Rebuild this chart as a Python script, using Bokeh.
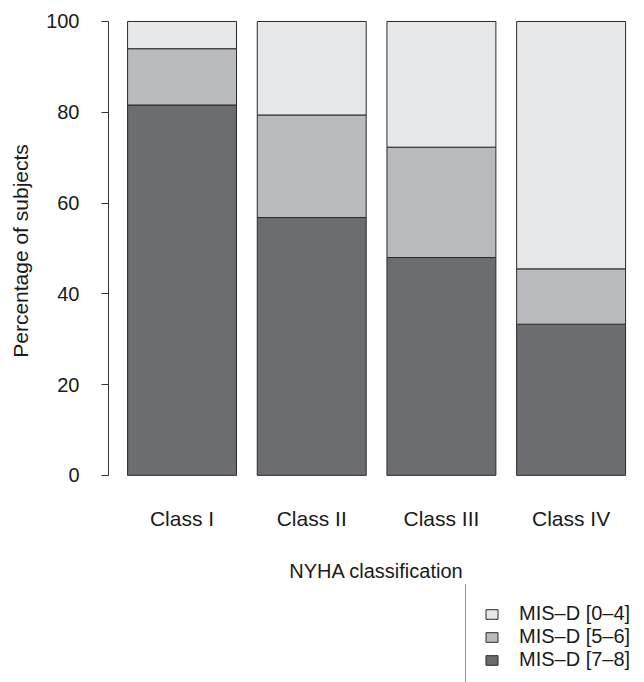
from bokeh.plotting import figure
from bokeh.layouts import column
from bokeh.models import ColumnDataSource, Range1d, FixedTicker, LinearAxis, Legend, LegendItem
from bokeh.embed import file_html
from bokeh.resources import INLINE

# ---- data ----
classes = ["Class I", "Class II", "Class III", "Class IV"]
mis_7_8 = [81.6, 56.8, 48.0, 33.3]
mis_5_6 = [12.4, 22.6, 24.3, 12.2]
mis_0_4 = [6.0, 20.6, 27.7, 54.5]
series_labels = ["MIS\u2013D [0\u20134]", "MIS\u2013D [5\u20136]", "MIS\u2013D [7\u20138]"]
y_ticks = [0, 20, 40, 60, 80, 100]

FONT = "Liberation Sans"
TXT = "#1a1a1a"
LIGHT, MID, DARK = "#e6e7e9", "#b9babd", "#6c6d71"
EDGE = "#2a2a2a"

xpos = list(range(1, len(classes) + 1))
source = ColumnDataSource(dict(x=xpos, dark=mis_7_8, mid=mis_5_6, light=mis_0_4))

# ---- main chart ----
p = figure(width=644, height=584, output_backend="svg", toolbar_location=None,
           x_range=Range1d(0.433, 4.566), y_range=Range1d(-4, 102.86),
           x_axis_location=None, y_axis_location=None,
           min_border_left=108, min_border_right=0, min_border_top=8, min_border_bottom=91)
p.outline_line_color = None
p.xgrid.visible = False
p.ygrid.visible = False
p.background_fill_color = "white"
p.border_fill_color = "white"

p.vbar_stack(["dark", "mid", "light"], x="x", width=0.84, source=source,
             fill_color=[DARK, MID, LIGHT], line_color=EDGE, line_width=1)

yax = LinearAxis(ticker=FixedTicker(ticks=y_ticks), bounds=(0, 100),
                 axis_label="Percentage of subjects")
yax.major_label_text_font = FONT
yax.major_label_text_font_size = "20px"
yax.major_label_text_color = TXT
yax.axis_label_text_font = FONT
yax.axis_label_text_font_size = "21px"
yax.axis_label_text_font_style = "normal"
yax.axis_label_text_color = TXT
yax.axis_line_color = "#333333"
yax.major_tick_line_color = "#333333"
yax.major_tick_out = 7
yax.major_tick_in = 0
yax.minor_tick_out = 0
yax.minor_tick_in = 0
yax.major_label_standoff = 22
yax.axis_label_standoff = 11
yax.major_label_orientation = "horizontal"
p.add_layout(yax, "left")

xax = LinearAxis(ticker=FixedTicker(ticks=xpos), axis_label="NYHA classification",
                 major_label_overrides={x: c for x, c in zip(xpos, classes)})
xax.major_label_text_font = FONT
xax.major_label_text_font_size = "21px"
xax.major_label_text_color = TXT
xax.axis_label_text_font = FONT
xax.axis_label_text_font_size = "20px"
xax.axis_label_text_font_style = "normal"
xax.axis_label_text_color = TXT
xax.axis_line_color = None
xax.major_tick_line_color = None
xax.minor_tick_line_color = None
xax.major_tick_out = 0
xax.major_tick_in = 0
xax.major_label_standoff = 13
xax.axis_label_standoff = 27
p.add_layout(xax, "below")

# ---- legend strip: same series, bars kept out of the visible range ----
q = figure(width=644, height=98, output_backend="svg", toolbar_location=None,
           x_range=Range1d(0.433, 4.566), y_range=Range1d(1000, 1001),
           x_axis_location=None, y_axis_location=None,
           min_border_left=108, min_border_right=0, min_border_top=0, min_border_bottom=0)
q.outline_line_color = None
q.xgrid.visible = False
q.ygrid.visible = False
q.border_fill_color = "white"
rs = q.vbar_stack(["dark", "mid", "light"], x="x", width=0.84, source=source,
                  fill_color=[DARK, MID, LIGHT], line_color=EDGE, line_width=1)

legend = Legend(items=[LegendItem(label=series_labels[0], renderers=[rs[2]]),
                       LegendItem(label=series_labels[1], renderers=[rs[1]]),
                       LegendItem(label=series_labels[2], renderers=[rs[0]])],
                location=(357, -8))
legend.label_text_font = FONT
legend.label_text_font_size = "20px"
legend.label_text_color = TXT
legend.glyph_width = 15
legend.glyph_height = 12
legend.label_height = 22
legend.label_standoff = 20
legend.spacing = 0
legend.padding = 18
legend.margin = 0
legend.border_line_color = "#333333"
legend.border_line_width = 1
legend.background_fill_alpha = 1.0
q.add_layout(legend, "center")

layout = column(p, q, spacing=0)
open("out.html", "w").write(file_html(layout, INLINE))
